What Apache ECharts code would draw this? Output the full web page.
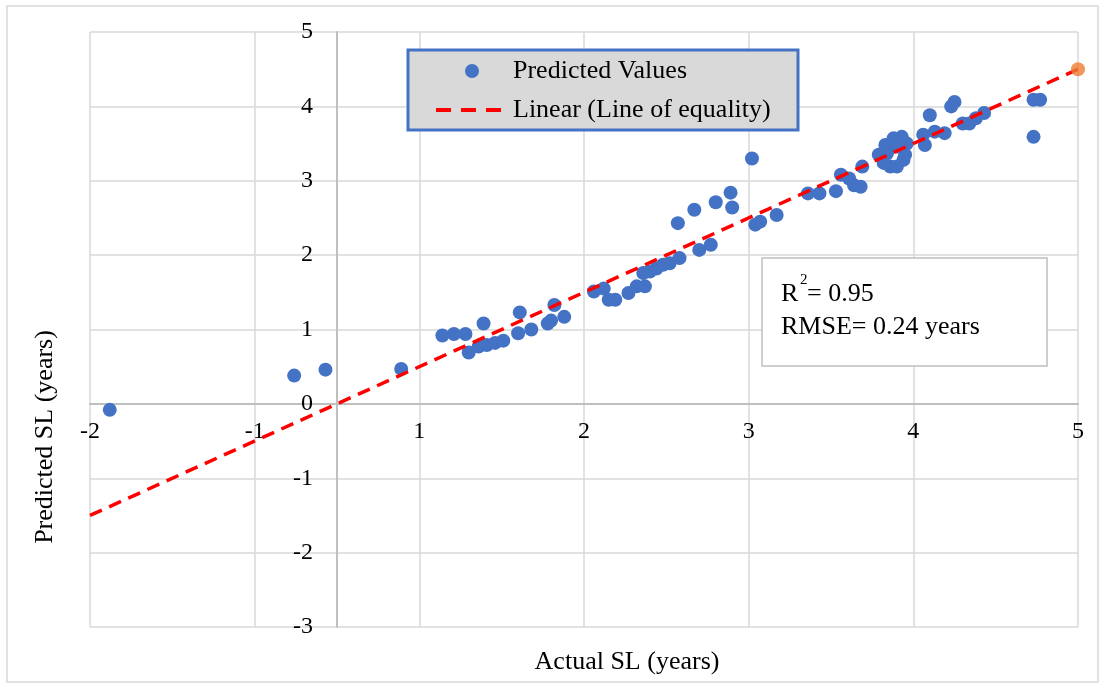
<!DOCTYPE html>
<html><head><meta charset="utf-8">
<script src="https://cdn.jsdelivr.net/npm/echarts@6/dist/echarts.min.js"></script>
<style>html,body{margin:0;padding:0;background:#fff}#c{width:1105px;height:687px}</style>
</head><body><div id="c"></div>
<script>
// ---- data ----
const actualSL = [-1.38,-0.26,-0.07,0.39,0.64,0.71,0.78,0.80,0.86,0.89,0.91,0.96,1.01,1.10,1.11,1.18,1.28,1.30,1.32,1.38,
  1.56,1.62,1.65,1.69,1.77,1.82,1.87,1.86,1.90,1.94,1.98,2.02,2.08,2.20,2.27,2.07,2.17,2.30,2.39,2.40,
  2.52,2.54,2.57,2.67,2.86,2.93,3.03,3.06,3.11,3.14,3.18,3.19,3.29,3.33,3.38,3.43,3.46,3.44,3.36,3.32,
  3.40,3.34,3.40,3.45,3.60,3.75,3.73,3.56,3.57,3.63,3.69,3.80,3.84,3.88,3.93,4.23,4.27,4.23];
const predictedSL = [-0.08,0.38,0.46,0.47,0.92,0.94,0.94,0.69,0.77,1.08,0.79,0.82,0.85,0.95,1.23,1.00,1.08,1.12,1.33,1.17,
  1.51,1.55,1.40,1.40,1.49,1.58,1.58,1.76,1.78,1.82,1.87,1.89,1.96,2.07,2.14,2.43,2.61,2.71,2.84,2.64,
  3.30,2.41,2.45,2.54,2.83,2.83,2.86,3.08,3.03,2.94,2.92,3.19,3.35,3.48,3.57,3.59,3.50,3.28,3.19,3.24,
  3.19,3.37,3.46,3.35,3.88,4.06,4.00,3.62,3.48,3.66,3.64,3.77,3.77,3.84,3.91,4.09,4.09,3.59];
const equalityPointX = [4.5];
const equalityPointY = [4.5];
const equalityLineX = [-1.5, 4.5];
const xTickLabels = ['-2','-1','1','2','3','4','5'];
const legendNames = ['Predicted Values', 'Linear (Line of equality)'];
const statsLines = ['= 0.95', 'RMSE= 0.24 years'];

const FONT = "'Liberation Serif','Times New Roman',serif";
const chart = echarts.init(document.getElementById('c'));
const scatterData = actualSL.map((x, i) => [x, predictedSL[i]]);
const option = {
  animation: false,
  backgroundColor: '#ffffff',
  grid: { left: 90, right: 27, top: 32, bottom: 60, containLabel: false },
  xAxis: [
    { type: 'value', position: 'top', min: -1.5, max: 4.5,
      axisLine: { show: true, onZero: true, lineStyle: { color: '#bfbfbf', width: 2 } },
      axisTick: { show: false }, axisLabel: { show: false }, splitLine: { show: false } },
    { type: 'value', position: 'bottom', min: 0, max: 6, interval: 1,
      axisLine: { show: false, onZero: false },
      axisTick: { show: false },
      axisLabel: { fontSize: 24, fontFamily: FONT, color: '#000', margin: -207,
        formatter: (v, i) => xTickLabels[i] },
      splitLine: { show: true, lineStyle: { color: '#d9d9d9', width: 1.5 } } }
  ],
  yAxis: { type: 'value', min: -3, max: 5, interval: 1,
    axisLine: { show: true, onZero: true, onZeroAxisIndex: 0, lineStyle: { color: '#bfbfbf', width: 2 } },
    axisTick: { show: false },
    axisLabel: { fontSize: 24, fontFamily: FONT, color: '#000', margin: -223 },
    splitLine: { show: true, lineStyle: { color: '#d9d9d9', width: 1.5 } } },
  legend: {
    data: [
      { name: legendNames[0], icon: 'circle' },
      { name: legendNames[1], itemStyle: { opacity: 0 }, lineStyle: { width: 4, type: [15, 10], color: '#ff0000' } }
    ],
    orient: 'vertical', left: 434, top: 58, padding: 0,
    itemWidth: 72, itemHeight: 14, itemGap: 13, selectedMode: false, z: 6,
    textStyle: { fontSize: 26, lineHeight: 26, fontFamily: FONT, color: '#000' }
  },
  series: [
    { name: legendNames[0], type: 'scatter', xAxisIndex: 0, data: scatterData,
      symbolSize: 14, itemStyle: { color: '#4472c4', opacity: 1 }, z: 2 },
    { name: legendNames[1], type: 'line', xAxisIndex: 0, data: equalityLineX.map(v => [v, v]),
      symbol: 'none', lineStyle: { color: '#ff0000', width: 3.5, type: [13, 8] }, z: 3 },
    { name: 'Line of equality', type: 'scatter', xAxisIndex: 0,
      data: equalityPointX.map((x, i) => [x, equalityPointY[i]]),
      symbolSize: 14, itemStyle: { color: '#ed7d31' }, z: 4 }
  ],
  graphic: [
    { type: 'rect', z: 0, silent: true, shape: { x: 7, y: 6, width: 1091, height: 676 },
      style: { fill: 'none', stroke: '#d9d9d9', lineWidth: 1.5 } },
    { type: 'rect', z: 3, silent: true, shape: { x: 408, y: 50, width: 390, height: 80 },
      style: { fill: '#d9d9d9', stroke: '#4472c4', lineWidth: 3 } },
    { type: 'rect', z: 3, silent: true, shape: { x: 762, y: 258, width: 285, height: 108 },
      style: { fill: '#ffffff', stroke: '#bfbfbf', lineWidth: 1.5 } },
    { type: 'text', z: 5, x: 781, y: 294,
      style: { text: 'R', fontSize: 26, fontFamily: FONT, fill: '#000', align: 'left', verticalAlign: 'middle' } },
    { type: 'text', z: 5, x: 800, y: 280,
      style: { text: '2', fontSize: 15, fontFamily: FONT, fill: '#000', align: 'left', verticalAlign: 'middle' } },
    { type: 'text', z: 5, x: 807, y: 294,
      style: { text: statsLines[0], fontSize: 26, fontFamily: FONT, fill: '#000', align: 'left', verticalAlign: 'middle' } },
    { type: 'text', z: 5, x: 781, y: 327,
      style: { text: statsLines[1], fontSize: 26, fontFamily: FONT, fill: '#000', align: 'left', verticalAlign: 'middle' } },
    { type: 'text', z: 5, x: 45, y: 437, rotation: Math.PI / 2,
      style: { text: 'Predicted SL (years)', fontSize: 26, fontFamily: FONT, fill: '#000', align: 'center', verticalAlign: 'middle' } },
    { type: 'text', z: 5, x: 627, y: 662,
      style: { text: 'Actual SL (years)', fontSize: 26, fontFamily: FONT, fill: '#000', align: 'center', verticalAlign: 'middle' } }
  ]
};
chart.setOption(option);
</script>
</body></html>
